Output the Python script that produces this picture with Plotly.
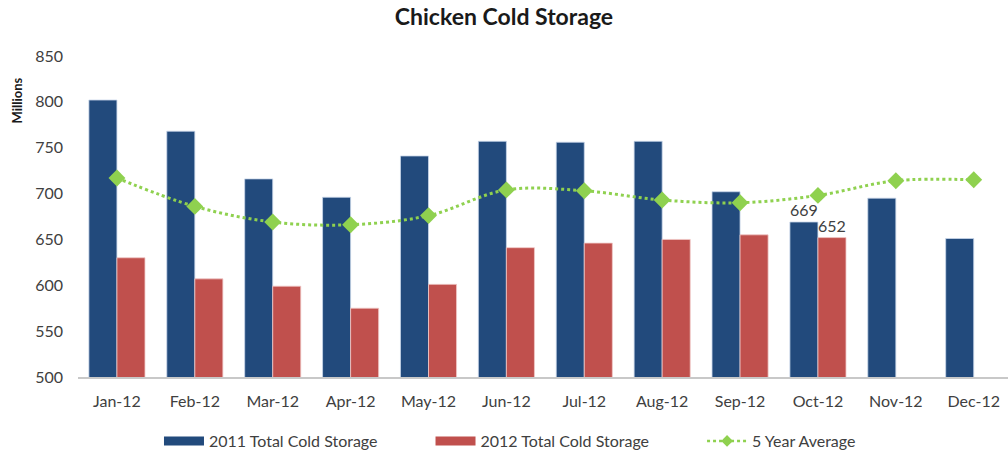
import plotly.graph_objects as go

months = ["Jan-12", "Feb-12", "Mar-12", "Apr-12", "May-12", "Jun-12",
          "Jul-12", "Aug-12", "Sep-12", "Oct-12", "Nov-12", "Dec-12"]
storage_2011 = [802, 768, 716, 696, 741, 757, 756, 757, 702, 669, 695, 651]
storage_2012 = [630, 607, 599, 575, 601, 641, 646, 650, 655, 652, None, None]
five_year_avg = [717, 686, 669, 666, 676, 704, 703, 693, 690, 698, 714, 715]
labelled_month = "Oct-12"

BLUE = "#224a7c"
RED = "#c0504d"
GREEN = "#8fd14f"
FONT = "Lato, 'Open Sans', sans-serif"
GAP = "\u2003" * 4  # breathing room between legend entries


def value_labels(values):
    return [str(v) if (m == labelled_month and v is not None) else ""
            for m, v in zip(months, values)]


fig = go.Figure()

fig.add_trace(go.Bar(
    x=months, y=storage_2011, name="2011 Total Cold Storage",
    marker=dict(color=BLUE, line=dict(color="#c9d7ea", width=0.8)),
    text=value_labels(storage_2011), textposition="outside",
    textfont=dict(size=16, color="#404040", family=FONT),
    cliponaxis=False, showlegend=False,
))
fig.add_trace(go.Bar(
    x=months, y=storage_2012, name="2012 Total Cold Storage",
    marker=dict(color=RED, line=dict(color="#f0c8c6", width=0.8)),
    text=value_labels(storage_2012), textposition="outside",
    textfont=dict(size=16, color="#404040", family=FONT),
    cliponaxis=False, showlegend=False,
))
fig.add_trace(go.Scatter(
    x=months, y=five_year_avg, name="5 Year Average", mode="lines+markers",
    line=dict(color=GREEN, width=3, dash="dot", shape="spline"),
    marker=dict(symbol="diamond", size=13, color=GREEN),
    showlegend=False,
))

# Legend entries drawn as wide swatches
fig.add_trace(go.Scatter(x=[None], y=[None], mode="lines", name="2011 Total Cold Storage" + GAP,
                         line=dict(color=BLUE, width=9)))
fig.add_trace(go.Scatter(x=[None], y=[None], mode="lines", name="2012 Total Cold Storage" + GAP,
                         line=dict(color=RED, width=9)))
fig.add_trace(go.Scatter(x=[None], y=[None], mode="lines+markers", name="5 Year Average",
                         line=dict(color=GREEN, width=2.5, dash="dot"),
                         marker=dict(symbol="diamond", size=9, color=GREEN)))

fig.update_layout(
    width=1008, height=458,
    margin=dict(l=78, r=0, t=56, b=78),
    paper_bgcolor="white", plot_bgcolor="white",
    font=dict(family=FONT, size=16, color="#404040"),
    title=dict(text="<b>Chicken Cold Storage</b>", x=0.5, xanchor="center",
               y=0.962, yanchor="middle", font=dict(size=23, color="#1a1a1a", family=FONT)),
    barmode="group", bargap=0.28, bargroupgap=0,
    legend=dict(orientation="h", x=0.4645, xanchor="center", y=-0.2, yanchor="middle",
                font=dict(size=16, color="#404040"), itemwidth=40,
                traceorder="normal"),
    xaxis=dict(type="category", range=[-0.5, 11.44], showgrid=False,
               showline=True, linecolor="#c8c8c8", linewidth=1.5,
               ticks="", ticklabelstandoff=9, tickfont=dict(size=16, color="#404040")),
    yaxis=dict(range=[500, 850], dtick=50, showgrid=False, zeroline=False,
               showline=False, ticks="", ticklabelstandoff=14,
               tickfont=dict(size=16, color="#404040")),
    annotations=[dict(text="<b>Millions</b>", textangle=-90, xref="paper", yref="paper",
                      x=-0.066, y=0.86, xanchor="center", yanchor="middle", showarrow=False,
                      font=dict(size=13, color="#1a1a1a", family=FONT))],
)

fig.write_html("out.html")
